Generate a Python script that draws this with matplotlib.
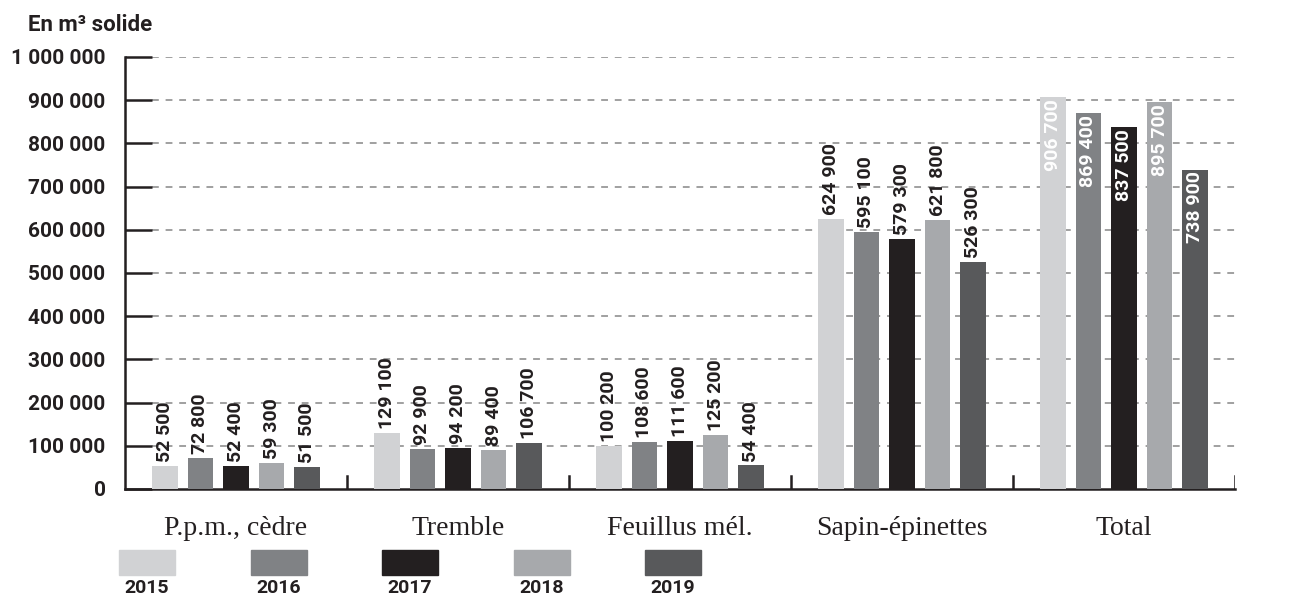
import matplotlib.pyplot as plt
import matplotlib.patches as mpatches
import numpy as np

# data
categories = ["P.p.m., cèdre", "Tremble", "Feuillus mél.", "Sapin-épinettes", "Total"]
years = ["2015", "2016", "2017", "2018", "2019"]
v2015 = [52500, 129100, 100200, 624900, 906700]
v2016 = [72800, 92900, 108600, 595100, 869400]
v2017 = [52400, 94200, 111600, 579300, 837500]
v2018 = [59300, 89400, 125200, 621800, 895700]
v2019 = [51500, 106700, 54400, 526300, 738900]
colors = ["#d1d2d4", "#808285", "#231f20", "#a7a9ac", "#58595b"]

W, H = 1291, 599
cond = ["Roboto", "DejaVu Sans"]
serif = ["Liberation Serif", "DejaVu Serif"]

def fx(px):
    return px / W

def fy(py):
    return 1 - py / H

def fmt(v):
    return f"{v:,}".replace(",", " ")

fig = plt.figure(figsize=(W / 100, H / 100), dpi=100)
ax = fig.add_axes([fx(125), fy(489), fx(1235) - fx(125), fy(57) - fy(489)])

series = [v2015, v2016, v2017, v2018, v2019]
x = np.arange(len(categories))
bw = 0.113
step = 0.16
for i, vals in enumerate(series):
    xs = x + (i - 2) * step
    ax.bar(xs, vals, width=bw, color=colors[i], zorder=3)
    for xi, v, cat in zip(xs, vals, categories):
        if cat == "Total":
            ax.text(xi, v - 4000, fmt(v), rotation=90, ha="center", va="top",
                    color="white", fontsize=14, fontweight="bold", family=cond, zorder=4)
        else:
            ax.text(xi, v + 9000, fmt(v), rotation=90, ha="center", va="bottom",
                    color="#231f20", fontsize=14, fontweight="bold", family=cond, zorder=4)

ax.set_xlim(-0.5, 4.5)
ax.set_ylim(0, 1000000)

# dashed gridlines start after the solid tick marks
tick_frac = 27 / 1110
for yv in range(100000, 1000001, 100000):
    ax.plot([-0.5 + tick_frac * 5, 4.5], [yv, yv], ls=(0, (3.5, 3.5)), color="#a0a0a0",
            lw=1.4, zorder=1)

ax.set_yticks(range(0, 1000001, 100000))
ax.set_yticklabels([fmt(v) for v in range(0, 1000001, 100000)], fontsize=15,
                   fontweight="bold", family=cond, color="#231f20")
ax.tick_params(axis="y", direction="in", length=19.5, width=1.8, color="#231f20", pad=14)
ax.set_xticks([])

# category separators
for b in np.arange(0.5, 5, 1):
    ax.plot([b, b], [0, 30000], color="#231f20", lw=1.8, zorder=2)

for s in ["top", "right"]:
    ax.spines[s].set_visible(False)
ax.spines["left"].set_linewidth(1.8)
ax.spines["bottom"].set_linewidth(1.8)
ax.spines["left"].set_color("#231f20")
ax.spines["bottom"].set_color("#231f20")

for xi, cat in zip(x, categories):
    ax.text(xi, -0.092, cat, transform=ax.get_xaxis_transform(), ha="center", va="center",
            fontsize=20, family=serif, color="#231f20")

fig.text(fx(28), fy(25), "En m³ solide", fontsize=16, fontweight="bold", family=cond,
         color="#231f20", ha="left", va="center")

# legend boxes
leg_centers = [147, 279, 410, 542, 673]
for cx, yr, c in zip(leg_centers, years, colors):
    fig.add_artist(mpatches.Rectangle((fx(cx - 28), fy(575)), fx(56), fy(550) - fy(575),
                                      transform=fig.transFigure, color=c))
    fig.text(fx(cx), fy(588), yr, fontsize=14, fontweight="bold", family=cond,
             color="#231f20", ha="center", va="center")

fig.savefig("out.png", dpi=100)
